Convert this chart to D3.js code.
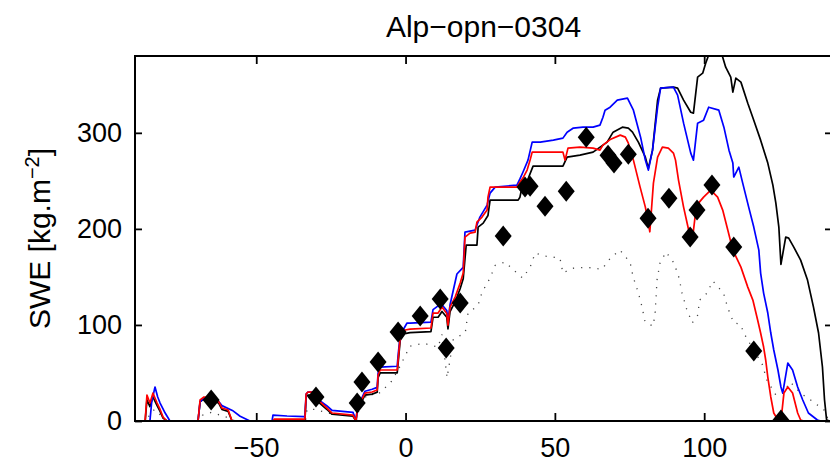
<!DOCTYPE html>
<html>
<head>
<meta charset="utf-8">
<script src="https://cdn.jsdelivr.net/npm/d3@7"></script>
<style>
  body { margin: 0; background: #fff; }
  text { font-family: "Liberation Sans", Arial, sans-serif; fill: #000; }
</style>
</head>
<body>
<div id="chart"></div>
<script>
const width = 830
const height = 467
const margin = {top: 56, left: 135}
const plotW = 697
const plotH = 365

// dias (desde 1 de enero) y SWE en kg/m2
const xTicks = [-50, 0, 50, 100]
const yTicks = [0, 100, 200, 300]

const redLine = [[-90.6,0],[-87.2,0],[-86.6,27],[-85.6,18.7],[-84.6,29],[-83.2,18.7],[-82.2,12],[-81.2,4],[-79.9,0],
  [-69.5,0],[-68.8,22],[-67.5,25],[-64,24],[-62.5,20],[-61.5,13.5],[-59.4,11.4],[-58.1,0],
  [-44.4,0],[-44,2],[-34,2],[-33.7,2],[-33.3,28],[-32.7,30.2],[-31,30],[-28.6,19.8],[-26.3,13.5],[-24.6,8.3],[-17.6,6.2],[-16.6,0],
  [-16.2,11.4],[-15.2,18.7],[-13.6,29.1],[-11.2,30.2],[-9.5,32.3],[-9.2,47.9],[-8.5,53.1],[-2.8,53.1],[-2.5,63.5],[-1.8,87.4],
  [-0.2,94.7],[1.5,95.7],[8.5,96.8],[9.2,112.4],[10.9,112.4],[12.2,118.6],[13.8,112],[14.2,99.9],[14.9,118.6],[16.6,129],
  [18.3,143.6],[19.3,154],[19.9,191.5],[21.6,195.6],[23.3,196.7],[23.9,207.1],[25.6,212.3],[27.3,219.6],[27.6,233.1],[28.3,243.5],
  [37.3,243.5],[38.3,248.7],[39.3,252.9],[40.7,261.2],[41.7,271.6],[42.4,279.9],[52.7,279.9],[53.4,271.6],[54.4,284.1],
  [58.4,285.1],[62.8,284.1],[65.1,282],[66.1,287.2],[68.5,293],[71.9,297.6],[73.6,295.5],[74.6,289.3],[76.3,271.6],[78.5,244],
  [80.3,222.7],[81.3,206],[81.8,197],[83,247.7],[84.4,274.7],[86,285.1],[88,284.1],[89.7,278.9],[90.4,271.6],[91.4,250.8],
  [93.1,222.7],[94.8,198.8],[96.1,190.4],[97.1,216.4],[98.1,226.8],[99.8,233.1],[102.2,240.4],[104.5,233.1],[106.2,219.6],
  [107.9,198.8],[109.6,177.9],[112.3,160.2],[114.6,139.4],[116.3,125.9],[117.9,105.1],[118.9,91.6],[119.9,77],[120.6,63.5],
  [121.3,45.8],[122.3,25],[123.3,8.3],[124.7,1],[125.7,0],[126.7,29.1],[128,35.4],[129.6,29.1],[131.3,8.3],[132.3,1],[133.3,0],[145,0]]

const blueLine = [[-90.6,0],[-85.6,0],[-85,20],[-83.9,35.4],[-83,25],[-82.2,18.7],[-80.5,8.3],[-78.9,0],
  [-69.5,0],[-68.8,20],[-67.5,24],[-64,24],[-62.5,20],[-61.5,16],[-58,11],[-55.4,5],[-52.1,0],
  [-44.7,0],[-44.4,6.2],[-39.7,5.2],[-34,4.5],[-33.7,4],[-33.3,28],[-32.7,30],[-31,30],[-28.6,21],[-26.3,15.6],[-24.6,11],[-17.6,9],[-16.6,0],
  [-16.2,12],[-15.2,20],[-13.6,31],[-11.2,33],[-9.5,35],[-9.2,50],[-8.5,56],[-2.8,57],[-2.5,68],[-1.8,89.5],[0.5,102],[1.5,102],
  [8.5,103],[9.2,116],[10.9,119.8],[12.2,121],[13.8,115],[14.2,105],[14.9,121],[17.2,153],[19.3,160],[19.9,196.7],[23.3,198.8],
  [24.9,212.3],[27.3,224.8],[28.3,237.2],[30,243.5],[37.3,245.6],[38.3,252],[39.3,259],[41,271.6],[42.4,290.3],[45.1,290.3],
  [49.5,292.4],[52.7,294.5],[54.1,300.7],[56.2,305],[59.4,305.9],[62.8,305.9],[65.1,308],[66.1,316.3],[66.8,323.6],[68.5,326.7],
  [70.9,334],[74.3,336.1],[76.3,323.6],[78.7,295.5],[80.3,271.6],[81.3,261.2],[82.7,282],[84.4,326.7],[85.4,346.5],[89.7,347.6],
  [91.1,339.3],[93.1,310.1],[95.5,278.9],[96.4,271.6],[97.8,310.1],[99.8,313.2],[101.5,326.7],[104.9,323.6],[106.6,305.9],
  [108.3,282],[109.6,268.5],[109.9,254],[111.6,264.3],[112.9,247.7],[114.9,222.7],[116.6,201.9],[118.3,177.9],[118.9,154],
  [119.9,133.2],[121.3,112.4],[122.3,91.6],[123.3,73.9],[124.7,53.1],[125.7,35.4],[126.3,29.1],[128,60.3],[129.6,53.1],
  [131.3,35.4],[133,21.9],[134.9,8.3],[137.9,1],[139,0],[145,0]]

const blackLine = [[-90.6,0],[-87.2,0],[-86.6,22],[-85.6,15],[-84.6,25],[-83.2,16],[-82.2,10],[-81.2,3],[-79.9,0],
  [-69.5,0],[-68.8,20],[-67.5,23],[-64,22],[-62.5,18],[-61.5,12],[-59.4,10],[-58.1,0],
  [-33.7,0],[-33.3,25],[-32.7,27],[-31,27],[-28.6,18],[-26.3,12],[-24.6,7],[-17.6,5],[-16.6,0],
  [-16.2,10],[-15.2,17],[-13.6,27],[-11.2,28],[-9.5,30],[-9.2,45],[-8.5,50],[-2.8,50],[-2.5,60],[-1.8,84],[-0.2,91],[1.5,92],
  [8.5,93],[9.2,108],[10.9,108],[12.2,114],[13.8,108],[14.2,96],[14.9,114],[16.6,124],[18.3,138],[19.3,148],[20.3,183],
  [23.9,183.1],[24.3,201.9],[26,206],[27.6,214],[28.3,230],[37.7,230],[38.3,233],[39,243.5],[41,252],[42.7,265.3],[52.7,265.3],
  [54.1,274.7],[58.4,276.8],[62.8,279.9],[67.5,290.3],[69.5,300.7],[72.6,305.9],[74.6,304.9],[76,300.7],[78,290],[80.3,274.7],
  [81.3,263],[82.7,282],[84.4,334],[85.4,346.5],[89.7,347.6],[91.1,346.5],[93.1,334],[95.5,321.5],[96.4,320.5],[97.8,358],
  [99.5,362.1],[100.5,372.5],[101.5,381],[102.6,388],[104.9,386],[106.2,378.8],[107.2,368.4],[108.9,358],[109.6,342.4],
  [110.6,357],[112.3,352.8],[114.6,330.9],[116.6,313.2],[118.9,292.4],[121.3,268.5],[123,245.6],[124,226.8],[125,201.9],
  [125.7,163],[127.3,191.5],[128.3,190.4],[130,181.1],[132.3,167.5],[134.6,146.7],[136.6,118.6],[138.3,91.6],[139.6,56.2],
  [140.3,21.9],[141,1],[142,0],[145,0]]

const dottedLine = [[-90.6,0],[-86.6,0],[-85.6,8],[-84,12],[-82,6],[-80,0],[-69,0],[-68,6],[-65,9],[-60,4],[-57,0],
  [-33.5,0],[-33,12],[-30,12],[-26,8],[-17,6],[-16.5,0],[-16,8],[-12.9,28],[-9.5,27],[-5,40],[-2.5,53],[1.5,78],[5.9,81],
  [10.9,77],[12.2,90],[13.9,45],[16,85],[20,92],[20.9,112],[24.3,120.7],[25.6,134],[28.3,148.8],[30,162],[33.3,165.5],
  [37.3,154],[39.2,148.8],[41.7,160],[43.4,174.8],[46.7,171.7],[51.7,169.6],[52.7,154],[55.8,159],[60.8,160],[65.8,158],
  [68.6,169.6],[71.8,178],[75.2,165],[76.2,150],[77.9,134],[79.2,118.6],[80.2,103],[82.9,98.8],[83.6,113],[84.2,146.7],
  [85.2,164.4],[87.2,175.9],[89.9,164.4],[91.6,148.8],[92.6,133],[94,117.6],[96,102],[97.8,110],[98.5,126],[100.9,133],
  [102.9,145.7],[106.5,133],[107.8,118.6],[109.9,102],[112,101],[114,87.4],[119.4,59.3],[121,42.7],[124,27],[126.3,29],
  [128.8,40.6],[132.3,29],[136.6,19.8],[140.3,11],[141.3,3],[145,0]]

// observaciones
const obs = [[-65.1,21.9],[-30,25],[-16.2,18.7],[-14.6,40.6],[-9.2,61.4],[-2.5,92.6],[4.9,109.3],[11.6,127],[13.6,76],
  [18.3,122.8],[32.7,192.5],[40,243.5],[41.7,244.5],[46.7,223.7],[53.8,239.3],[60.5,295.5],[67.8,276.8],[69.8,268.5],
  [74.6,277.8],[81.2,211.2],[88.2,232],[95.3,191.5],[97.6,219.6],[102.6,245.6],[109.9,181.1],[116.6,72.8],[125.7,1]]

const svg = d3.select("div#chart")
    .append("svg")
    .attr("width", width)
    .attr("height", height)

const x = d3.scaleLinear().domain([-90.6, 142.8]).range([0, plotW])
const y = d3.scaleLinear().domain([0, 380]).range([plotH, 0])

const g = svg.append("g").attr("transform", `translate(${margin.left},${margin.top})`)

g.append("clipPath").attr("id", "clip")
    .append("rect").attr("width", plotW).attr("height", plotH)

const line = d3.line().x(d => x(d[0])).y(d => y(d[1]))
const lines = g.append("g").attr("clip-path", "url(#clip)")

lines.append("path").datum(dottedLine).attr("d", line)
    .attr("fill", "none").attr("stroke", "#444").attr("stroke-width", 1.3)
    .attr("stroke-dasharray", "1.2 7")

const series = [[blackLine, "#000"], [blueLine, "#0000ff"], [redLine, "#ff0000"]]
series.forEach(s => {
    lines.append("path").datum(s[0]).attr("d", line)
        .attr("fill", "none").attr("stroke", s[1]).attr("stroke-width", 1.7)
        .attr("stroke-linejoin", "round")
})

lines.selectAll("path.obs").data(obs)
    .join("path")
    .attr("class", "obs")
    .attr("transform", d => `translate(${x(d[0])},${y(d[1])})`)
    .attr("d", "M0,-10.5L8.5,0L0,10.5L-8.5,0Z")
    .attr("fill", "#000")

// ejes con ticks hacia dentro
const fontSize = 27
g.append("g").attr("transform", `translate(0,${plotH})`)
    .call(d3.axisBottom(x).tickValues(xTicks).tickSizeInner(-8).tickSizeOuter(0).tickPadding(17))
g.append("g")
    .call(d3.axisLeft(y).tickValues(yTicks).tickSizeInner(-7).tickSizeOuter(0).tickPadding(13))
g.append("g")
    .call(d3.axisTop(x).tickValues(xTicks).tickSizeInner(-8).tickSizeOuter(0).tickFormat(""))
g.append("g").attr("transform", `translate(${plotW},0)`)
    .call(d3.axisRight(y).tickValues(yTicks).tickSizeInner(-7).tickSizeOuter(0).tickFormat(""))

g.selectAll(".domain").remove()
g.selectAll(".tick line").attr("stroke", "#000").attr("stroke-width", 1.8)
g.selectAll(".tick text").attr("font-size", fontSize)
    .attr("font-family", "Liberation Sans, Arial, sans-serif").attr("fill", "#000")

g.append("rect").attr("width", plotW).attr("height", plotH)
    .attr("fill", "none").attr("stroke", "#000").attr("stroke-width", 2)

svg.append("text")
    .attr("x", margin.left + plotW / 2)
    .attr("y", 37)
    .attr("text-anchor", "middle")
    .attr("font-size", 30)
    .text("Alp−opn−0304")

const ylab = svg.append("text")
    .attr("transform", `translate(50,${margin.top + plotH / 2}) rotate(-90)`)
    .attr("text-anchor", "middle")
    .attr("font-size", 30)
ylab.append("tspan").text("SWE [kg.m")
ylab.append("tspan").attr("font-size", 20).attr("dy", -11).text("−2")
ylab.append("tspan").attr("dy", 11).text("]")
</script>
</body>
</html>
